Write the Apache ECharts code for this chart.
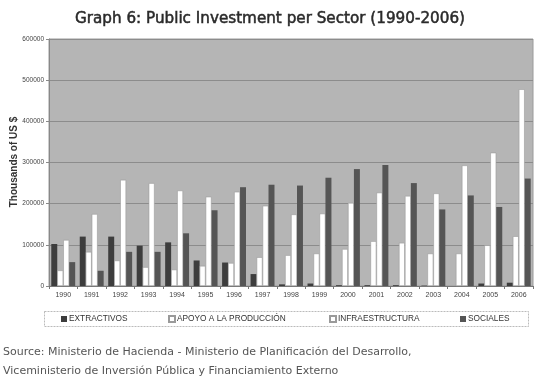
<!DOCTYPE html>
<html>
<head>
<meta charset="utf-8">
<script src="https://cdn.jsdelivr.net/npm/echarts@6/dist/echarts.min.js"></script>
<style>
  html, body { margin: 0; padding: 0; background: #fff; }
  #chart { width: 540px; height: 378px; }
</style>
</head>
<body>
<div id="chart"></div>
<script>
// años
var years = ['1990','1991','1992','1993','1994','1995','1996','1997','1998','1999',
             '2000','2001','2002','2003','2004','2005','2006'];

// miles de US $
var extractivos = [102000,120000,120000,98000,106000,62000,57000,29000,4000,6000,
                   2000,2000,2000,1000,0,6000,8000];
var apoyo = [38000,83000,62000,46000,40000,49000,56000,70000,75000,79000,
             90000,109000,105000,79000,79000,99000,121000];
var infra = [112000,175000,258000,250000,232000,217000,229000,195000,174000,176000,
             202000,227000,219000,225000,293000,324000,478000];
var sociales = [58000,37000,83000,83000,128000,184000,240000,246000,244000,263000,
                284000,294000,250000,186000,220000,192000,261000];

var yTicks = [0,100000,200000,300000,400000,500000,600000];
var nombres = ['EXTRACTIVOS', 'APOYO A LA PRODUCCIÓN', 'INFRAESTRUCTURA', 'SOCIALES'];

var dom = document.getElementById('chart');
var myChart = echarts.init(dom);

function barSerie(name, data, color, border) {
    return {
        name: name,
        type: 'bar',
        data: data,
        barGap: '0%',
        barCategoryGap: '16%',
        itemStyle: {
            color: color,
            borderColor: border,
            borderWidth: border ? 0.6 : 0
        }
    };
}

// una leyenda por serie, para colocarlas como en el original
var posLeyenda = [61, 168, 329, 460];
var leyendas = [];
for (var i = 0; i < nombres.length; i++) {
    leyendas.push({
        left: posLeyenda[i],
        top: 315,
        padding: 0,
        itemWidth: 6,
        itemHeight: 6,
        itemGap: 0,
        icon: 'rect',
        selectedMode: false,
        textStyle: { fontSize: 8.3, color: '#333', padding: [0, 0, 0, -3] },
        data: [nombres[i]]
    });
}

var option = {
    animation: false,
    backgroundColor: '#ffffff',
    textStyle: { fontFamily: 'Liberation Sans, Arial, sans-serif' },
    title: {
        text: 'Graph 6: Public Investment per Sector (1990-2006)',
        left: 'center',
        top: 7,
        textStyle: {
            fontFamily: 'DejaVu Sans, sans-serif',
            fontSize: 15.2,
            fontWeight: 'normal',
            color: '#2a2a2a',
            textBorderColor: '#2a2a2a',
            textBorderWidth: 0.5
        }
    },
    legend: leyendas,
    grid: {
        left: 49,
        right: 7,
        top: 39,
        bottom: 92,
        outerBoundsMode: 'none',
        show: true,
        backgroundColor: '#b5b5b5',
        borderColor: '#9a9a9a',
        borderWidth: 1
    },
    xAxis: {
        type: 'category',
        data: years,
        axisLine: { lineStyle: { color: '#777' } },
        axisTick: { show: true, length: 3, lineStyle: { color: '#777' } },
        axisLabel: { fontSize: 7, color: '#444', margin: 6 }
    },
    yAxis: {
        type: 'value',
        min: yTicks[0],
        max: yTicks[yTicks.length - 1],
        interval: 100000,
        axisLine: { show: true, lineStyle: { color: '#888' } },
        axisTick: { show: true, length: 3, lineStyle: { color: '#888' } },
        axisLabel: {
            fontSize: 6.5, color: '#444', margin: 5,
            formatter: function (v) { return '' + v; }
        },
        splitLine: { lineStyle: { color: '#8c8c8c', width: 1 } }
    },
    series: [
        barSerie(nombres[0], extractivos, '#3d3d3d'),
        barSerie(nombres[1], apoyo, '#ffffff', '#9a9a9a'),
        barSerie(nombres[2], infra, '#ffffff', '#9a9a9a'),
        barSerie(nombres[3], sociales, '#555555')
    ],
    graphic: [
        {
            // titulo del eje y
            type: 'text',
            x: 14,
            y: 162,
            rotation: Math.PI / 2,
            style: {
                text: 'Thousands of US $',
                font: 'bold 10px Liberation Sans, Arial, sans-serif',
                fill: '#333',
                align: 'center',
                verticalAlign: 'middle'
            }
        },
        {
            type: 'rect',
            shape: { x: 44.5, y: 311.5, width: 484, height: 15 },
            style: { fill: 'none', stroke: '#aaa', lineWidth: 0.8, lineDash: [2, 1] }
        },
        {
            type: 'text',
            left: 3,
            top: 343,
            style: {
                text: 'Source: Ministerio de Hacienda - Ministerio de Planificación del Desarrollo,\nViceministerio de Inversión Pública y Financiamiento Externo',
                font: '11px DejaVu Sans, sans-serif',
                fill: '#555',
                lineHeight: 19
            }
        }
    ]
};

myChart.setOption(option);
</script>
</body>
</html>
